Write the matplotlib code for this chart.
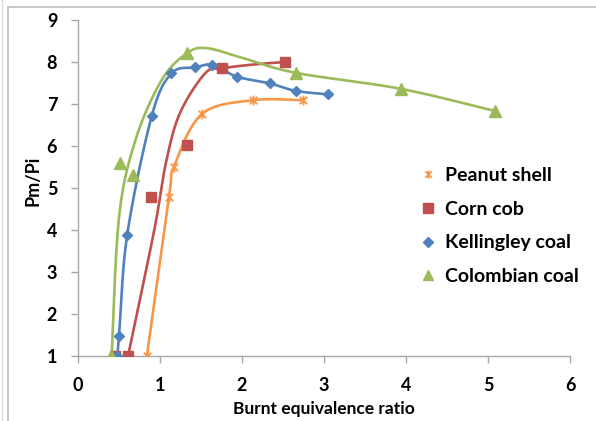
import numpy as np
import matplotlib
matplotlib.use("Agg")
import matplotlib.pyplot as plt
from matplotlib.path import Path
from matplotlib.lines import Line2D

plt.rcParams['font.family'] = ['Lato', 'DejaVu Sans']
plt.rcParams['font.weight'] = 'bold'

# ---- data ----
peanut_x = [0.84, 1.11, 1.17, 1.51, 2.13, 2.74]
peanut_y = [1.00, 4.78, 5.50, 6.76, 7.09, 7.09]

corn_x = [0.45, 0.61, 0.89, 1.33, 1.76, 2.52]
corn_y = [1.00, 1.00, 4.79, 6.02, 7.85, 8.00]
corn_curve_x = [0.61, 0.93, 1.07, 1.24, 1.55, 1.76, 2.14, 2.52]
corn_curve_y = [1.00, 4.00, 5.58, 6.77, 7.73, 7.85, 7.94, 8.00]

kell_x = [0.48, 0.50, 0.60, 0.90, 1.14, 1.43, 1.64, 1.94, 2.34, 2.66, 3.05]
kell_y = [1.00, 1.48, 3.89, 6.72, 7.73, 7.87, 7.93, 7.65, 7.49, 7.31, 7.23]

colo_x = [0.40, 0.51, 0.67, 1.33, 2.66, 3.94, 5.09]
colo_y = [1.00, 5.60, 5.32, 8.21, 7.74, 7.36, 6.83]
colo_curve_x = [0.41, 0.50, 0.70, 1.02, 1.33, 1.57, 2.00, 2.66, 3.94, 5.09]
colo_curve_y = [1.00, 4.30, 6.14, 7.57, 8.21, 8.33, 8.10, 7.74, 7.36, 6.83]

labels = ["Peanut shell", "Corn cob", "Kellingley coal", "Colombian coal"]
colors = ["#F79646", "#C0504D", "#4F81BD", "#9BBB59"]


def smooth(xs, ys, n=40):
    """Bezier smoothing through the given knots (Catmull-Rom style)."""
    p = np.column_stack([xs, ys]).astype(float)
    pts = [p[0]]
    for i in range(len(p) - 1):
        p0 = p[i - 1] if i > 0 else p[i]
        p1, p2 = p[i], p[i + 1]
        p3 = p[i + 2] if i + 2 < len(p) else p[i + 1]
        c1 = p1 + (p2 - p0) / 6.0
        c2 = p2 - (p3 - p1) / 6.0
        t = np.linspace(0, 1, n)[1:, None]
        seg = ((1 - t) ** 3) * p1 + 3 * ((1 - t) ** 2) * t * c1 + 3 * (1 - t) * t ** 2 * c2 + t ** 3 * p2
        pts.extend(seg)
    pts = np.array(pts)
    return pts[:, 0], pts[:, 1]


# asterisk-like star marker: an x crossed by a vertical bar
star = Path([(-1, -1), (1, 1), (-1, 1), (1, -1), (0, -1.3), (0, 1.3)],
            [Path.MOVETO, Path.LINETO, Path.MOVETO, Path.LINETO, Path.MOVETO, Path.LINETO])

fig = plt.figure(figsize=(5.96, 4.21), dpi=100)
ax = fig.add_axes([0.1309, 0.1544, 0.8255, 0.7981])

lw = 1.9
for xs, ys, c in [(peanut_x, peanut_y, colors[0]),
                  (corn_curve_x, corn_curve_y, colors[1]),
                  (kell_x, kell_y, colors[2]),
                  (colo_curve_x, colo_curve_y, colors[3])]:
    sx, sy = smooth(xs, ys)
    ax.plot(sx, sy, color=c, lw=lw, solid_capstyle='round', zorder=2)

ax.plot(peanut_x, peanut_y, ls='none', marker=star, ms=7, mec=colors[0], mfc='none', mew=1.3, zorder=3)
ax.plot(corn_x, corn_y, ls='none', marker='s', ms=7.5, mec=colors[1], mfc=colors[1], zorder=3)
ax.plot(kell_x, kell_y, ls='none', marker='D', ms=5.5, mec=colors[2], mfc=colors[2], zorder=3)
ax.plot(colo_x, colo_y, ls='none', marker='^', ms=8, mec=colors[3], mfc=colors[3], zorder=3)

ax.set_xlim(0, 6)
ax.set_ylim(1, 9)
ax.set_xticks(range(0, 7))
ax.set_yticks(range(1, 10))

axis_gray = "#A6A6A6"
for s in ['top', 'right']:
    ax.spines[s].set_visible(False)
for s in ['left', 'bottom']:
    ax.spines[s].set_color(axis_gray)
    ax.spines[s].set_linewidth(1.0)
ax.tick_params(axis='both', direction='out', length=5, width=1.0, color=axis_gray,
               labelsize=13, labelcolor='black')
ax.tick_params(axis='x', pad=10)
ax.tick_params(axis='y', pad=10)
for t in ax.get_xticklabels() + ax.get_yticklabels():
    t.set_fontweight('bold')

ax.set_xlabel("Burnt equivalence ratio", fontsize=12.5, fontweight='bold')
ax.set_ylabel("Pm/Pi", fontsize=13, fontweight='bold')
ax.xaxis.set_label_coords(0.5, -0.135)
ax.yaxis.set_label_coords(-0.074, 0.52)

handles = [
    Line2D([], [], ls='none', marker=star, ms=6, mec=colors[0], mfc='none', mew=1.2),
    Line2D([], [], ls='none', marker='s', ms=7, mec=colors[1], mfc=colors[1]),
    Line2D([], [], ls='none', marker='D', ms=5, mec=colors[2], mfc=colors[2]),
    Line2D([], [], ls='none', marker='^', ms=7, mec=colors[3], mfc=colors[3]),
]
leg = fig.legend(handles, labels, loc='upper left', bbox_to_anchor=(420 / 596, 1 - 167 / 421),
                 frameon=False, fontsize=14, handlelength=0.8, handletextpad=0.5,
                 labelspacing=0.86, borderaxespad=0, borderpad=0)
for t in leg.get_texts():
    t.set_fontweight('bold')

# frame lines around the figure area
border = "#BFBFBF"
fig.add_artist(Line2D([8 / 596, 1], [1 - 6.5 / 421, 1 - 6.5 / 421], color=border, lw=1.2))
fig.add_artist(Line2D([8 / 596, 8 / 596], [0, 1 - 6.5 / 421], color=border, lw=1.2))
fig.add_artist(Line2D([1.5 / 596, 1.5 / 596], [0, 1], color="#D9D9D9", lw=1.0))

fig.savefig("out.png", dpi=100)
